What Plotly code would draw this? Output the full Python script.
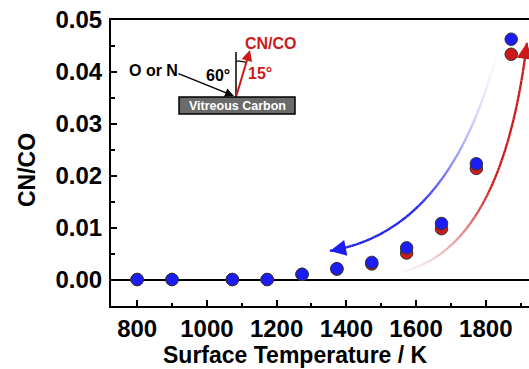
import numpy as np
import plotly.graph_objects as go

# ---- data ----
temperature_K = [800, 900, 1073, 1173, 1273, 1373, 1473, 1573, 1673, 1773, 1873]
cnco_red = [0.0, 0.0, 0.0, 0.0, 0.0010, 0.0020, 0.0030, 0.0051, 0.0098, 0.0214, 0.0434]
cnco_blue = [0.0, 0.0, 0.0, 0.0, 0.0010, 0.0021, 0.0033, 0.0061, 0.0108, 0.0223, 0.0463]
x_ticks = [800, 1000, 1200, 1400, 1600, 1800]
y_ticks = [0.00, 0.01, 0.02, 0.03, 0.04, 0.05]

BLUE = "#1c1cf5"
RED = "#cc1a1a"
FONT = "Arial, Liberation Sans, sans-serif"

W, H = 529, 369
L, R, T, B = 111, 0, 20, 63
PW, PH = W - L - R, H - T - B


def pp(px, py):
    """pixel -> paper coordinates"""
    return (px - L) / PW, (H - B - py) / PH


fig = go.Figure()
fig.add_trace(go.Scatter(x=temperature_K, y=cnco_red, mode="markers",
                         marker=dict(size=12.5, color=RED, line=dict(color="#333", width=1)),
                         showlegend=False))
fig.add_trace(go.Scatter(x=temperature_K, y=cnco_blue, mode="markers",
                         marker=dict(size=12.5, color=BLUE, line=dict(color="#333", width=1)),
                         showlegend=False))

shapes = []
annotations = []


def bez(p0, p1, p2, t):
    t = np.asarray(t)[:, None]
    p0, p1, p2 = map(np.array, (p0, p1, p2))
    return (1 - t) ** 2 * p0 + 2 * (1 - t) * t * p1 + t ** 2 * p2


def mix(c, f):
    c = c.lstrip("#")
    r, g, b = int(c[0:2], 16), int(c[2:4], 16), int(c[4:6], 16)
    r = int(255 + (r - 255) * f)
    g = int(255 + (g - 255) * f)
    b = int(255 + (b - 255) * f)
    return f"rgb({r},{g},{b})"


def gradient_arrow(p0, p1, p2, color, n=90, full_at=0.6):
    ts = np.linspace(0, 1, n + 1)
    pts = bez(p0, p1, p2, ts)
    for i in range(n):
        tm = (ts[i] + ts[i + 1]) / 2
        f = min(1.0, tm / full_at) ** 1.6
        shapes.append(dict(type="line", xref="x", yref="y", layer="below",
                           x0=pts[i][0], y0=pts[i][1], x1=pts[i + 1][0], y1=pts[i + 1][1],
                           line=dict(color=mix(color, f), width=2.3)))
    tail = bez(p0, p1, p2, [0.96])[0]
    annotations.append(dict(x=pts[-1][0], y=pts[-1][1], ax=tail[0], ay=tail[1],
                            xref="x", yref="y", axref="x", ayref="y", text="",
                            showarrow=True, arrowhead=2, arrowsize=1.4, arrowwidth=2.3,
                            arrowcolor=color, standoff=0))


# blue arrow: from top (faint) curving down-left
gradient_arrow((1841, 0.0462), (1712, 0.0095), (1353, 0.0055), BLUE)
# red arrow: from bottom (faint) curving up-right
gradient_arrow((1511, 0.0010), (1841, 0.0028), (1918, 0.0456), RED)


def text_at(txt, px, py, size, color, angle=0):
    x, y = pp(px, py)
    annotations.append(dict(x=x, y=y, xref="paper", yref="paper", text=f"<b>{txt}</b>",
                            xanchor="center", yanchor="middle", textangle=angle,
                            showarrow=False, font=dict(family=FONT, size=size, color=color)))


# ---- inset sketch ----
bx0, by0 = pp(179, 97)
bx1, by1 = pp(295, 114)
shapes.append(dict(type="rect", xref="paper", yref="paper", x0=bx0, y0=by1, x1=bx1, y1=by0,
                   fillcolor="#6b6b6b", line=dict(color="black", width=1.5)))
text_at("Vitreous Carbon", 237, 106, 12.5, "white")
vx0, vy0 = pp(236, 97)
vx1, vy1 = pp(236, 52)
shapes.append(dict(type="line", xref="paper", yref="paper", x0=vx0, y0=vy0, x1=vx1, y1=vy1,
                   line=dict(color="black", width=1.5)))
# arc between normal and outgoing arrow
r = 36
th = np.radians(np.linspace(0, 16, 12))
arc = [pp(236 + r * np.sin(a), 97 - r * np.cos(a)) for a in th]
path = "M " + " L ".join(f"{x:.5f},{y:.5f}" for x, y in arc)
shapes.append(dict(type="path", xref="paper", yref="paper", path=path,
                   line=dict(color="black", width=1.2)))
# incoming arrow
tx, ty = pp(234, 96)
annotations.append(dict(x=tx, y=ty, xref="paper", yref="paper", ax=-57, ay=-23, text="",
                        showarrow=True, arrowhead=2, arrowsize=1.2, arrowwidth=1.5,
                        arrowcolor="black", standoff=0))
# outgoing arrow
tx, ty = pp(250, 50)
annotations.append(dict(x=tx, y=ty, xref="paper", yref="paper", ax=-14, ay=47, text="",
                        showarrow=True, arrowhead=2, arrowsize=1.1, arrowwidth=2,
                        arrowcolor=RED, standoff=0))

text_at("O or N", 153, 70, 16, "black")
text_at("60°", 218, 75, 16, "black")
text_at("15°", 260, 73, 16, RED)
text_at("CN/CO", 271, 43, 16, RED)

# axis titles
text_at("Surface Temperature / K", 295, 355, 23, "black")
text_at("CN/CO", 27, 170, 23, "black", angle=-90)

fig.update_layout(
    width=W, height=H, margin=dict(l=L, r=R, t=T, b=B),
    paper_bgcolor="white", plot_bgcolor="white",
    shapes=shapes, annotations=annotations, showlegend=False,
    font=dict(family=FONT, color="black"),
)
fig.update_xaxes(range=[725, 1924], tickvals=x_ticks, ticktext=[f"<b>{v}</b>" for v in x_ticks],
                 ticks="inside", ticklen=6, tickwidth=1.5, tickcolor="black",
                 minor=dict(ticks="inside", ticklen=3, dtick=100, tick0=800, tickcolor="black", tickwidth=1.5),
                 showline=True, linecolor="black", linewidth=2, mirror=True,
                 showgrid=False, zeroline=False,
                 tickfont=dict(family=FONT, size=24, color="black"))
fig.update_yaxes(range=[-0.0051, 0.05], tickvals=y_ticks, ticktext=[f"<b>{v:.2f}</b>" for v in y_ticks],
                 ticks="inside", ticklen=6, tickwidth=1.5, tickcolor="black",
                 minor=dict(ticks="inside", ticklen=4, dtick=0.005, tick0=0, tickcolor="black", tickwidth=1.5),
                 showline=True, linecolor="black", linewidth=2, mirror=False,
                 showgrid=False, zeroline=True, zerolinecolor="black", zerolinewidth=2,
                 ticklabelstandoff=2,
                 tickfont=dict(family=FONT, size=24, color="black"))

fig.write_html("out.html")
